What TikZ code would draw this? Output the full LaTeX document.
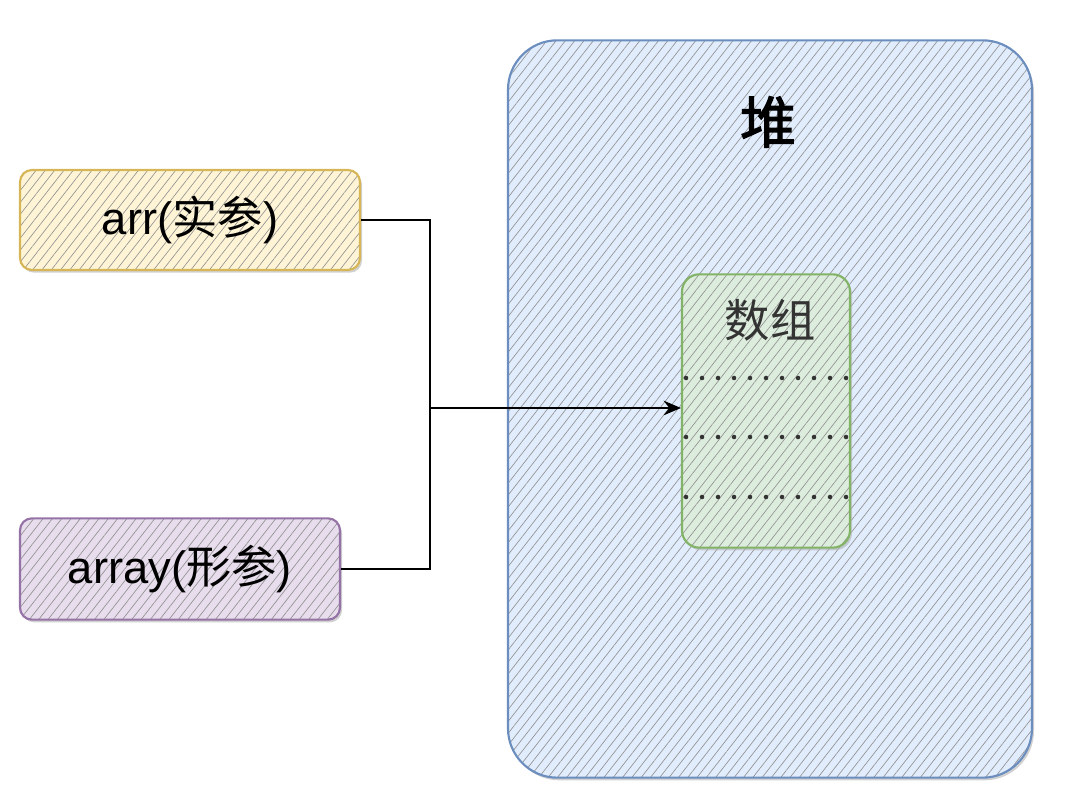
\documentclass[tikz,border=0pt]{standalone}
\usepackage{fontspec}
\setmainfont{Liberation Sans}
\newfontfamily\cjk{Noto Sans CJK SC}
\newfontfamily\cjkbold[FakeBold=2]{Noto Sans CJK SC}
\usepackage{xcolor}
\usetikzlibrary{arrows.meta,patterns.meta,shadows}

\definecolor{heapline}{HTML}{6C8EBF}
\definecolor{heapfill}{HTML}{DAE8FC}
\definecolor{argline}{HTML}{D6B656}
\definecolor{argfill}{HTML}{FFF2CC}
\definecolor{parline}{HTML}{9673A6}
\definecolor{parfill}{HTML}{E1D5E7}
\definecolor{blockline}{HTML}{82B366}
\definecolor{blockfill}{HTML}{D5E8D4}
\definecolor{inktext}{HTML}{333333}

\begin{document}
\begin{tikzpicture}[x=0.75pt,y=-0.75pt,
    hatchbox/.style={draw=#1line, line width=1.6pt, inner sep=0pt,
        drop shadow={shadow xshift=1.5pt, shadow yshift=-2pt, fill=gray!60, opacity=0.6},
        preaction={fill=#1fill!80!white},
        pattern={Lines[angle=52,distance=5.5pt,line width=0.5pt]}, pattern color=gray!85},
    smalltext/.style={font=\fontsize{34}{40}\selectfont},
    link/.style={black, line width=0.9pt}]
\useasboundingbox (0,0) rectangle (1084,812);

% heap
\node[hatchbox=heap, rounded corners=37pt, minimum width=393pt, minimum height=553pt] (heap) at (770,409) {};
\node[font=\fontsize{42}{48}\selectfont] (heaplabel) at (768,122) {\cjkbold 堆};

% array in heap
\node[hatchbox=block, rounded corners=13pt, minimum width=126pt, minimum height=205pt] (block) at (766,411) {};
\node[smalltext, text=inktext] (blocklabel) at (770,320) {\cjk 数组};
\foreach \y in {378,437,497}
    \foreach \x in {0,...,10}
        \fill[inktext] (686+16*\x,\y) circle [radius=1.7pt];

% the two references
\node[hatchbox=arg, rounded corners=9pt, minimum width=255pt, minimum height=75pt, smalltext] (arr) at (190,220) {arr({\cjk 实参})};
\node[hatchbox=par, rounded corners=9pt, minimum width=240pt, minimum height=76pt, smalltext] (array) at (180,569) {array({\cjk 形参})};

\coordinate (join) at (430,408);
\draw[link] (arr.east) -| (join);
\draw[link] (array.east) -| (join);
\draw[link, -{Stealth[length=13pt, width=11pt]}] (join) -- (join -| block.west);
\end{tikzpicture}
\end{document}
